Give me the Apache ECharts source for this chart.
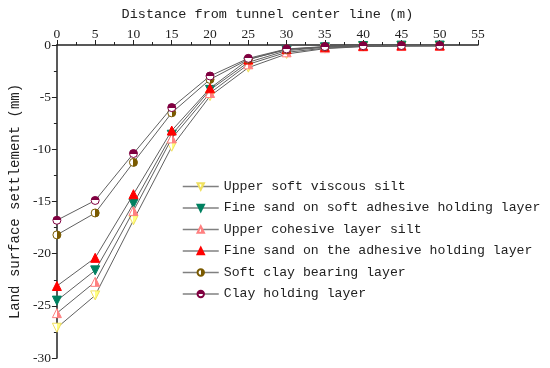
<!DOCTYPE html>
<html>
<head>
<meta charset="utf-8">
<script src="https://cdn.jsdelivr.net/npm/echarts@6/dist/echarts.min.js"></script>
<style>html,body{margin:0;padding:0;background:#fff}#c{width:550px;height:368px}</style>
</head>
<body>
<div id="c"></div>
<script>
const distances = [0, 5, 10, 15, 20, 25, 30, 35, 40, 45, 50];
const seriesNames = [
  'Upper soft viscous silt',
  'Fine sand on soft adhesive holding layer',
  'Upper cohesive layer silt',
  'Fine sand on the adhesive holding layer',
  'Soft clay bearing layer',
  'Clay holding layer'
];
const upperSoftViscousSilt = [-27.1, -24.0, -16.8, -9.75, -4.9, -2.17, -0.86, -0.35, -0.15, -0.1, -0.1];
const fineSandSoftAdhesive = [-24.5, -21.6, -15.2, -8.6, -4.3, -1.66, -0.54, -0.22, -0.1, -0.06, -0.05];
const upperCohesiveSilt = [-25.7, -22.7, -15.9, -8.95, -4.6, -1.85, -0.7, -0.3, -0.13, -0.1, -0.08];
const fineSandAdhesive = [-23.1, -20.4, -14.3, -8.2, -4.15, -1.4, -0.4, -0.18, -0.08, -0.05, -0.05];
const softClayBearing = [-18.2, -16.1, -11.25, -6.5, -3.3, -1.37, -0.45, -0.18, -0.08, -0.05, -0.05];
const clayHolding = [-16.8, -14.9, -10.4, -6.0, -2.97, -1.28, -0.38, -0.15, -0.07, -0.05, -0.05];
const xTicks = { min: 0, max: 55, interval: 5 };
const yTicks = { min: -30, max: 0, interval: 5 };

function half(dir, c) {
  let x2 = 0, y2 = 0;
  let first = c, second = '#ffffff';
  if (dir === 'left') { x2 = 1; }
  else if (dir === 'right') { x2 = 1; first = '#ffffff'; second = c; }
  else if (dir === 'top') { y2 = 1; }
  return new echarts.graphic.LinearGradient(0, 0, x2, y2, [
    { offset: 0, color: first }, { offset: 0.5, color: first },
    { offset: 0.5, color: second }, { offset: 1, color: second }
  ]);
}

const styles = [
  { data: upperSoftViscousSilt, symbol: 'triangle', rotate: 180, fill: half('left', '#ffff80'), border: '#f0e060', size: 9 },
  { data: fineSandSoftAdhesive, symbol: 'triangle', rotate: 180, fill: '#008060', border: '#008060', size: 9 },
  { data: upperCohesiveSilt, symbol: 'triangle', rotate: 0, fill: half('right', '#ff8080'), border: '#ff8080', size: 9 },
  { data: fineSandAdhesive, symbol: 'triangle', rotate: 0, fill: '#ff0000', border: '#ff0000', size: 9 },
  { data: softClayBearing, symbol: 'circle', rotate: 0, fill: half('right', '#7a5a00'), border: '#7a5a00', size: 8 },
  { data: clayHolding, symbol: 'circle', rotate: 0, fill: half('top', '#800040'), border: '#800040', size: 8 }
];

const series = styles.map((s, i) => ({
  name: seriesNames[i],
  type: 'line',
  data: distances.map((d, j) => [d, s.data[j]]),
  symbol: s.symbol,
  symbolRotate: s.rotate,
  symbolSize: s.size,
  showAllSymbol: true,
  lineStyle: { color: '#606060', width: 1 },
  itemStyle: { color: s.fill, borderColor: s.border, borderWidth: 1 },
  emphasis: { disabled: true },
  z: 2 + i
}));

const chart = echarts.init(document.getElementById('c'), null, { renderer: 'canvas' });
chart.setOption({
  animation: false,
  backgroundColor: '#ffffff',
  grid: { left: 53, top: 45, right: 72, bottom: 10, containLabel: false },
  legend: {
    orient: 'vertical',
    left: 177,
    top: 175,
    itemWidth: 36,
    itemHeight: 8,
    itemGap: 8.5,
    lineStyle: { color: '#808080', width: 1.5 },
    textStyle: { fontFamily: 'Liberation Mono', fontSize: 13.2, color: '#222' },
    data: seriesNames
  },
  xAxis: {
    type: 'value',
    position: 'top',
    min: xTicks.min, max: xTicks.max, interval: xTicks.interval,
    name: 'Distance from tunnel center line (m)',
    nameLocation: 'middle',
    nameGap: 24,
    nameTextStyle: { fontFamily: 'Liberation Mono', fontSize: 13.5, color: '#222' },
    axisLine: { show: true, onZero: false, lineStyle: { color: '#222', width: 1.5 } },
    axisTick: { show: true, inside: false, length: 5, lineStyle: { color: '#222' } },
    minorTick: { show: true, splitNumber: 2, length: 3, lineStyle: { color: '#222' } },
    axisLabel: { fontFamily: 'Liberation Serif', fontSize: 13.5, color: '#222', margin: 4 },
    splitLine: { show: false }
  },
  yAxis: {
    type: 'value',
    min: yTicks.min, max: yTicks.max, interval: yTicks.interval,
    name: 'Land surface settlement (mm)',
    nameLocation: 'middle',
    nameGap: 34,
    nameTextStyle: { fontFamily: 'Liberation Mono', fontSize: 14, color: '#222' },
    axisLine: { show: true, onZero: false, lineStyle: { color: '#222', width: 1.5 } },
    axisTick: { show: true, inside: false, length: 5, lineStyle: { color: '#222' } },
    minorTick: { show: true, splitNumber: 2, length: 3, lineStyle: { color: '#222' } },
    axisLabel: { fontFamily: 'Liberation Serif', fontSize: 13.5, color: '#222', margin: 6 },
    splitLine: { show: false }
  },
  series: series
});
</script>
</body>
</html>
